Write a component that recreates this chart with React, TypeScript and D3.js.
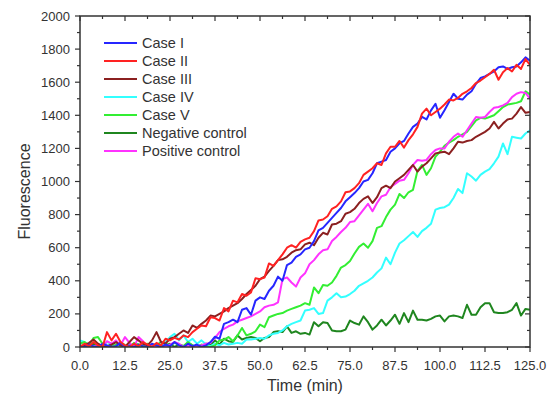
import React from 'react'
import * as d3 from 'd3'

const WIDTH = 552
const HEIGHT = 401
const M = { top: 16, right: 22, bottom: 54, left: 80 }

// time grid, one reading every 1.25 min
const time = d3.range(0, 101).map(i => i * 1.25)

const caseI = [10, 0, 15, 5, 0, 20, 10, 0, 5, 25, 0, 10, 0, 15, 5, 0, 20, 10, 0, 15, 5, 30, 10, 0, 20, 5, 15, 0, 10, 30,
  62, 50, 140, 150, 165, 150, 225, 235, 195, 280, 300, 290, 340, 370, 425, 400, 495, 510, 545, 560,
  590, 600, 640, 705, 720, 750, 780, 810, 840, 880, 905, 930, 960, 1000, 1010, 1050, 1110, 1120, 1130, 1180,
  1200, 1230, 1245, 1290, 1330, 1350, 1390, 1375, 1430, 1470, 1385, 1430, 1480, 1530, 1500, 1495, 1525, 1545, 1590, 1625,
  1635, 1650, 1665, 1690, 1695, 1680, 1690, 1695, 1720, 1750, 1730]

const caseII = [0, 20, 5, 30, 10, 0, 90, 40, 80, 30, 10, 0, 20, 5, 30, 15, 0, 25, 10, 50, 40, 55, 45, 70, 60, 90, 110, 130, 125, 180,
  175, 160, 235, 215, 280, 270, 320, 310, 330, 415, 410, 420, 505, 490, 525, 560, 600, 615, 600, 635,
  650, 660, 700, 765, 770, 790, 835, 850, 880, 935, 940, 960, 990, 1040, 1060, 1080, 1110, 1100, 1170, 1210,
  1210, 1245, 1205, 1250, 1285, 1330, 1410, 1440, 1400, 1420, 1440, 1465, 1495, 1490, 1505, 1530, 1545, 1565, 1595, 1610,
  1630, 1650, 1675, 1615, 1660, 1685, 1665, 1705, 1680, 1740, 1705]

const caseIII = [0, 10, 25, 45, 20, 5, 0, 15, 30, 10, 0, 30, 60, 40, 20, 10, 40, 90, 30, 20, 50, 60, 80, 100, 85, 130, 115, 140, 160, 190,
  185, 200, 215, 235, 250, 265, 290, 320, 345, 370, 410, 425, 460, 490, 525, 530, 545, 570, 585, 590,
  620, 630, 615, 660, 690, 680, 740, 745, 760, 805, 815, 835, 870, 895, 910, 870, 905, 960, 975, 960,
  1000, 1020, 1040, 1070, 1100, 1060, 1090, 1110, 1140, 1170, 1175, 1180, 1165, 1200, 1240, 1235, 1245, 1250, 1270, 1285,
  1300, 1320, 1360, 1320, 1350, 1375, 1380, 1410, 1450, 1415, 1420]

const caseIV = [40, 30, 10, 0, 15, 5, 30, 20, 0, 10, 5, 0, 20, 10, 0, 15, 5, 0, 10, 30, 60, 80, 40, 70, 30, 50, 20, 40, 15, 5,
  20, 10, 25, 15, 20, 25, 20, 45, 45, 50, 55, 50, 70, 80, 85, 100, 125, 140, 150, 160,
  220, 225, 235, 200, 205, 280, 300, 325, 300, 305, 320, 340, 370, 385, 400, 420, 450, 475, 540, 500,
  570, 625, 645, 670, 695, 665, 700, 720, 745, 830, 840, 845, 860, 900, 955, 930, 1050, 1030, 1005, 1040,
  1060, 1075, 1110, 1150, 1230, 1165, 1270, 1265, 1260, 1290, 1310]

const caseV = [20, 30, 10, 55, 60, 20, 5, 0, 15, 30, 10, 0, 25, 15, 5, 20, 0, 10, 30, 20, 10, 25, 15, 5, 30, 10, 0, 15, 5, 0,
  10, 40, 45, 60, 35, 70, 115, 70, 80, 95, 135, 120, 180, 190, 200, 205, 220, 230, 240, 250,
  265, 255, 360, 325, 375, 370, 390, 430, 480, 495, 520, 565, 605, 625, 600, 640, 720, 730, 785, 830,
  860, 925, 900, 935, 950, 1065, 1100, 1040, 1080, 1150, 1180, 1215, 1235, 1250, 1270, 1285, 1300, 1335, 1370, 1385,
  1380, 1390, 1400, 1425, 1450, 1465, 1470, 1475, 1485, 1545, 1525]

const negative = [0, 5, 0, 20, 10, 0, 5, 15, 0, 10, 0, 5, 20, 0, 10, 0, 5, 15, 0, 10, 20, 0, 15, 5, 25, 10, 0, 5, 20, 10,
  40, 15, 50, 35, 30, 70, 45, 55, 60, 55, 35, 55, 60, 90, 95, 90, 125, 85, 95, 80,
  85, 75, 150, 125, 150, 145, 100, 95, 95, 105, 160, 145, 135, 185, 150, 105, 130, 165, 130, 160,
  195, 140, 205, 150, 220, 165, 165, 160, 170, 185, 190, 155, 185, 190, 185, 175, 255, 195, 195, 240,
  265, 265, 210, 205, 205, 210, 225, 265, 190, 230, 225]

const positive = [0, 0, 5, 0, 10, 0, 35, 20, 40, 10, 60, 25, 0, 60, 35, 0, 5, 0, 10, 0, 15, 30, 20, 0, 10, 0, 5, 10, 20, 25,
  55, 90, 110, 125, 135, 155, 165, 175, 185, 200, 215, 240, 250, 255, 270, 410, 420, 390, 365, 420,
  445, 500, 525, 560, 585, 590, 640, 665, 695, 720, 755, 760, 795, 830, 865, 820, 870, 910, 920, 965,
  985, 1005, 1010, 1050, 1100, 1130, 1125, 1130, 1165, 1190, 1200, 1200, 1240, 1270, 1290, 1270, 1310, 1350, 1390, 1385,
  1390, 1420, 1445, 1450, 1460, 1475, 1510, 1530, 1540, 1535, 1500]

const seriesNames = ['Case I', 'Case II', 'Case III', 'Case IV', 'Case V', 'Negative control', 'Positive control']
const seriesColors = ['#2626ff', '#ff2222', '#8b2020', '#33ffff', '#33ee33', '#1f861f', '#ff33ff']
const seriesValues = [caseI, caseII, caseIII, caseIV, caseV, negative, positive]
// draw order: later ones on top
const drawOrder = [5, 3, 4, 6, 2, 0, 1]

const xTicks = d3.range(0, 126, 12.5)
const xMinor = d3.range(0, 126, 6.25)
const yTicks = d3.range(0, 2001, 200)
const yMinor = d3.range(0, 2001, 100)

const AXIS = '#333'
const FONT = 'Arial, "Liberation Sans", sans-serif'

const App = () => {
  const iw = WIDTH - M.left - M.right
  const ih = HEIGHT - M.top - M.bottom
  const x = d3.scaleLinear().domain([0, 125]).range([0, iw])
  const y = d3.scaleLinear().domain([0, 2000]).range([ih, 0])

  const linePath = d3.line<number>()
    .x((d, i) => x(time[i]))
    .y(d => y(d))

  return (
    <svg width={WIDTH} height={HEIGHT} style={{ position: 'absolute', left: 0, top: 0, background: '#fff' }}
      fontFamily={FONT}>
      <g transform={`translate(${M.left}, ${M.top})`}>
        <defs>
          <clipPath id="plot">
            <rect x={0} y={-2} width={iw} height={ih + 2} />
          </clipPath>
        </defs>

        <g clipPath="url(#plot)">
          {drawOrder.map(k => (
            <path key={seriesNames[k]} d={linePath(seriesValues[k]) || ''}
              style={{ fill: 'none', stroke: seriesColors[k], strokeWidth: 2, strokeLinejoin: 'round' }} />
          ))}
        </g>

        {/* frame */}
        <rect x={0} y={0} width={iw} height={ih} style={{ fill: 'none', stroke: AXIS, strokeWidth: 1.5 }} />

        {/* bottom and top ticks */}
        {xMinor.map(t => {
          const major = xTicks.includes(t)
          const len = major ? 5 : 3
          return (
            <g key={'x' + t}>
              <line x1={x(t)} x2={x(t)} y1={ih} y2={ih + len} style={{ stroke: AXIS, strokeWidth: 1.2 }} />
              <line x1={x(t)} x2={x(t)} y1={0} y2={len} style={{ stroke: AXIS, strokeWidth: 1.2 }} />
            </g>
          )
        })}
        {xTicks.map(t => (
          <text key={'xl' + t} x={x(t)} y={ih + 23} textAnchor="middle" fontSize={13} fill="#333">
            {t.toFixed(1)}
          </text>
        ))}

        {/* left and right ticks */}
        {yMinor.map(v => {
          const major = v % 200 === 0
          const len = major ? 5 : 3
          return (
            <g key={'y' + v}>
              <line x1={-len} x2={0} y1={y(v)} y2={y(v)} style={{ stroke: AXIS, strokeWidth: 1.2 }} />
              <line x1={iw - len} x2={iw} y1={y(v)} y2={y(v)} style={{ stroke: AXIS, strokeWidth: 1.2 }} />
            </g>
          )
        })}
        {yTicks.map(v => (
          <text key={'yl' + v} x={-10} y={y(v) + 4.5} textAnchor="end" fontSize={13} fill="#333">
            {v}
          </text>
        ))}

        <text transform={`translate(${-50}, ${ih / 2 + 10}) rotate(-90)`} textAnchor="middle" fontSize={16} fill="#333">
          Fluorescence
        </text>
        <text x={iw / 2} y={ih + 44} textAnchor="middle" fontSize={16} fill="#333">
          Time (min)
        </text>

        {/* legend */}
        <g transform="translate(24, 27)">
          {seriesNames.map((name, i) => (
            <g key={name} transform={`translate(0, ${i * 18})`}>
              <line x1={0} x2={33} y1={0} y2={0} style={{ stroke: seriesColors[i], strokeWidth: 2 }} />
              <text x={38} y={5} fontSize={14.5} fill="#333">{name}</text>
            </g>
          ))}
        </g>
      </g>
    </svg>
  )
}

export default App
